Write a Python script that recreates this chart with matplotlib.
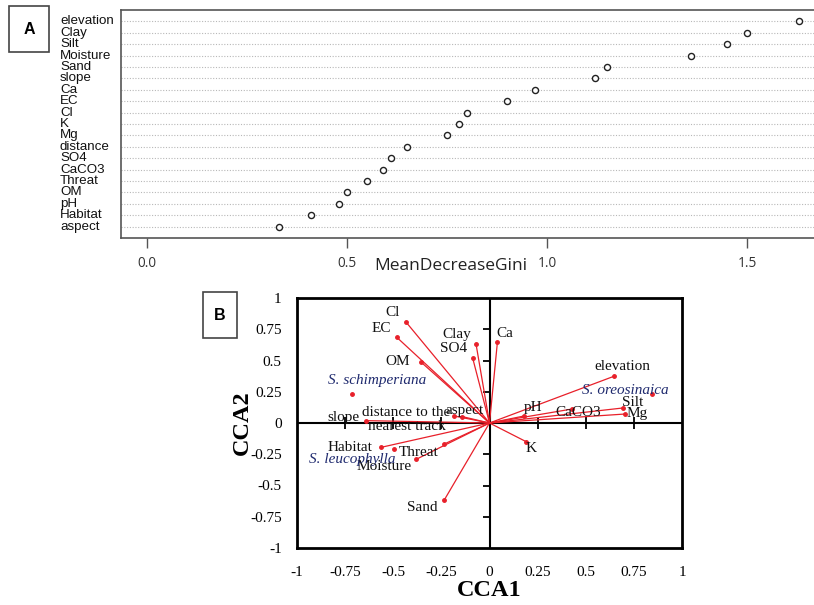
import matplotlib.pyplot as plt
import matplotlib.patches as patches
import matplotlib.transforms as mtransforms
import numpy as np

# ---- panel A data: random forest variable importance ----
variables = ['elevation', 'Clay', 'Silt', 'Moisture', 'Sand', 'slope', 'Ca', 'EC', 'Cl', 'K',
             'Mg', 'distance', 'SO4', 'CaCO3', 'Threat', 'OM', 'pH', 'Habitat', 'aspect']
gini = [1.63, 1.50, 1.45, 1.36, 1.15, 1.12, 0.97, 0.90, 0.80, 0.78,
        0.75, 0.65, 0.61, 0.59, 0.55, 0.50, 0.48, 0.41, 0.33]
gini_ticks = [0.0, 0.5, 1.0, 1.5]

# ---- panel B data: CCA biplot ----
env_names = ['Cl', 'EC', 'OM', 'Clay', 'SO4', 'Ca', 'elevation', 'Silt', 'Mg', 'CaCO3', 'pH', 'K',
             'aspect', 'distance to the\nnearest track', 'slope', 'Habitat', 'Threat', 'Moisture', 'Sand']
env_cca1 = [-0.435, -0.482, -0.354, -0.070, -0.087, 0.041, 0.645, 0.692, 0.706, 0.429, 0.179, 0.190,
            -0.141, -0.184, -0.643, -0.564, -0.235, -0.380, -0.235]
env_cca2 = [0.810, 0.686, 0.485, 0.632, 0.517, 0.645, 0.373, 0.120, 0.072, 0.112, 0.056, -0.149,
            0.051, 0.056, 0.019, -0.195, -0.168, -0.290, -0.616]
species = ['S. schimperiana', 'S. oreosinaica', 'S. leucophylla']
sp_cca1 = [-0.716, 0.846, -0.494]
sp_cca2 = [0.229, 0.229, -0.208]
cca_ticks = [-1, -0.75, -0.5, -0.25, 0, 0.25, 0.5, 0.75, 1]

# label offsets (points) from the end of each arrow
env_offsets = [(-9.4, 6.5), (-11.3, 6.5), (-17.3, 0.4), (-13.9, 7), (-14, 6.9), (5.5, 6.5),
               (6.5, 6.9), (6.9, 4.1), (8.2, 0.5), (4.5, -2.7), (6.7, 6.3), (3.4, -5.3),
               (1.4, 4.3), (-34.2, -2.4), (-16.1, 2.4), (-22.3, 0), (-18.7, -6.3), (-23.3, -5.3),
               (-15.6, -5.3)]
sp_offsets = [(18, 10.3), (-19.7, 2.6), (-30, -7.9)]

W, H = 814, 605
fig = plt.figure(figsize=(W / 100, H / 100), dpi=100)

def fx(px):
    return px / W

def fy(py):
    return 1 - py / H

# ================= Panel A =================
axA = fig.add_axes([fx(120.7), fy(238), fx(825.4 - 120.7), fy(10) - fy(238)])
rows = np.arange(len(variables), 0, -1)
for r in rows:
    axA.axhline(r, color='#b8b8b8', lw=0.8, ls=(0, (1, 1.5)), zorder=1)
axA.plot(gini, rows, 'o', ms=4.4, mfc='white', mec='#222222', mew=1.0, zorder=3)
axA.set_xlim(-0.0658, 1.6958)
axA.set_ylim(0, len(variables) + 1)
axA.set_yticks([])
axA.set_xticks(gini_ticks)
axA.set_xticklabels([f'{t:.1f}' for t in gini_ticks], fontfamily='Open Sans', fontsize=9.8, color='#333333')
axA.tick_params(axis='x', direction='out', length=7, width=1, color='#555555', pad=6)
for s in axA.spines.values():
    s.set_color('#555555')
    s.set_linewidth(1.2)
axA.spines['right'].set_visible(False)

trans = mtransforms.blended_transform_factory(fig.transFigure, axA.transData)
for name, r in zip(variables, rows):
    axA.text(fx(60), r, name, transform=trans, ha='left', va='center',
             fontfamily='Liberation Sans', fontsize=9.6, color='#111111', clip_on=False)

fig.text(fx(450.5), fy(266), 'MeanDecreaseGini', ha='center', va='center',
         fontfamily='Open Sans', fontsize=12.5, color='#222222')

fig.patches.append(patches.Rectangle((fx(9.3), fy(52)), fx(40), fy(6) - fy(52),
                                     transform=fig.transFigure, fill=False, ec='#444444', lw=1.2))
fig.text(fx(29.3), fy(29), 'A', ha='center', va='center', fontfamily='Liberation Sans',
         fontweight='bold', fontsize=11.5)

# ================= Panel B =================
axB = fig.add_axes([fx(297), fy(548), fx(682 - 297), fy(298) - fy(548)])
axB.set_xlim(-1, 1)
axB.set_ylim(-1, 1)
axB.axhline(0, color='black', lw=1.5, zorder=2)
axB.axvline(0, color='black', lw=1.5, zorder=2)

red = '#e8202a'
for x, y in zip(env_cca1, env_cca2):
    axB.plot([0, x], [0, y], color=red, lw=0.9, zorder=3)
axB.plot(env_cca1, env_cca2, 'o', color=red, ms=2.5, zorder=4)
axB.plot(sp_cca1, sp_cca2, 'o', color=red, ms=2.5, zorder=4)

for name, x, y, off in zip(env_names, env_cca1, env_cca2, env_offsets):
    axB.annotate(name, (x, y), xytext=off, textcoords='offset points', ha='center', va='center',
                 fontfamily='Liberation Serif', fontsize=11, color='#111111',
                 linespacing=1.1, zorder=5)
for name, x, y, off in zip(species, sp_cca1, sp_cca2, sp_offsets):
    axB.annotate(name, (x, y), xytext=off, textcoords='offset points', ha='center', va='center',
                 fontfamily='Liberation Serif', fontstyle='italic', fontsize=11,
                 color='#1f2a6e', zorder=5)

# tick marks drawn on the zero lines
inner = [t for t in cca_ticks if t not in (-1, 0, 1)]
axB.plot(inner, [0] * len(inner), ls='none', marker='|', ms=8, mew=1.3, color='black', zorder=2)
axB.plot([0] * len(inner), inner, ls='none', marker=0, ms=5, mew=1.3, color='black', zorder=2)

def fmt(t):
    return f'{t:g}'

axB.set_xticks(cca_ticks)
axB.set_yticks(cca_ticks)
axB.set_xticklabels([fmt(t) for t in cca_ticks], fontfamily='Liberation Serif', fontsize=11)
axB.set_yticklabels([fmt(t) for t in cca_ticks], fontfamily='Liberation Serif', fontsize=11)
axB.tick_params(axis='x', length=0, pad=13)
axB.tick_params(axis='y', length=0, pad=11)
for s in axB.spines.values():
    s.set_linewidth(2)
    s.set_color('black')

fig.text(fx(489.5), fy(591), 'CCA1', ha='center', va='center', fontfamily='Liberation Serif',
         fontsize=17.5, fontweight='bold')
fig.text(fx(242), fy(423), 'CCA2', ha='center', va='center', rotation=90,
         fontfamily='Liberation Serif', fontsize=17.5, fontweight='bold')

fig.patches.append(patches.Rectangle((fx(202.7), fy(338.3)), fx(34.6), fy(291.7) - fy(338.3),
                                     transform=fig.transFigure, fill=False, ec='#444444', lw=1.2))
fig.text(fx(220), fy(315), 'B', ha='center', va='center', fontfamily='Liberation Sans',
         fontweight='bold', fontsize=11.5)

fig.savefig('out.png', dpi=100)
